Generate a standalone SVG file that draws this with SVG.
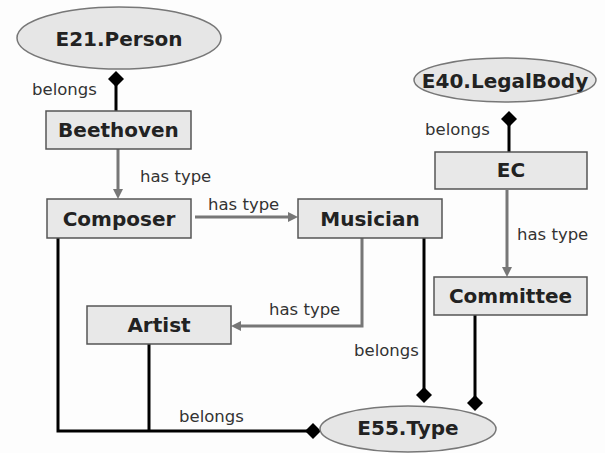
<svg xmlns="http://www.w3.org/2000/svg" width="605" height="453" viewBox="0 0 605 453">
<defs>
<style>
.box{fill:#e8e8e8;stroke:#555;stroke-width:1.5}
.ell{fill:#e6e6e6;stroke:#777;stroke-width:1.5}
.t{font-family:"DejaVu Sans",Verdana,sans-serif;font-weight:bold;font-size:20px;fill:#222;text-anchor:middle}
.l{font-family:"DejaVu Sans",Verdana,sans-serif;font-size:16.5px;fill:#333}
.ht{fill:none;stroke:#777;stroke-width:3;marker-end:url(#arr)}
.bl{fill:none;stroke:#000;stroke-width:3}
.bd{marker-end:url(#dia)}
</style>
<marker id="arr" markerUnits="userSpaceOnUse" markerWidth="12" markerHeight="12" refX="2" refY="5" orient="auto" viewBox="0 0 12 10">
<path d="M0,0 L10,5 L0,10 z" fill="#777"/>
</marker>
<marker id="dia" markerUnits="userSpaceOnUse" markerWidth="18" markerHeight="18" refX="12" refY="8" orient="auto" viewBox="0 0 18 16">
<path d="M0,8 L8,0 L16,8 L8,16 z" fill="#000"/>
</marker>
</defs>
<rect width="605" height="453" fill="#fdfdfd"/>
<g id="connectors">
<path class="bl bd" d="M116,111 V75"/>
<path class="bl bd" d="M509,152 V115"/>
<path class="ht" d="M118,149 V191"/>
<path class="ht" d="M195,217 H290"/>
<path class="ht" d="M507,190 V269"/>
<path class="ht" d="M362,238 V326 H239"/>
<path class="bl bd" d="M424,238 V399"/>
<path class="bl bd" d="M475,315 V407"/>
<path class="bl bd" d="M58,238 V431 H317"/>
<path class="bl" d="M149,344 V431"/>
<text class="l" x="32" y="95">belongs</text>
<text class="l" x="425" y="135">belongs</text>
<text class="l" x="140" y="182">has type</text>
<text class="l" x="208" y="210">has type</text>
<text class="l" x="517" y="240">has type</text>
<text class="l" x="269" y="315">has type</text>
<text class="l" x="354" y="356">belongs</text>
<text class="l" x="179" y="422">belongs</text>
</g>
<g id="E21.Person"><ellipse class="ell" cx="119" cy="38" rx="102" ry="31"/><text class="t" x="119" y="46">E21.Person</text></g>
<g id="E40.LegalBody"><ellipse class="ell" cx="505" cy="80" rx="91" ry="22"/><text class="t" x="505" y="88">E40.LegalBody</text></g>
<g id="Beethoven"><rect class="box" x="46" y="111" width="145" height="38"/><text class="t" x="118.5" y="137">Beethoven</text></g>
<g id="EC"><rect class="box" x="435" y="152" width="152" height="37"/><text class="t" x="511" y="177">EC</text></g>
<g id="Composer"><rect class="box" x="47" y="199" width="144" height="39"/><text class="t" x="119" y="226">Composer</text></g>
<g id="Musician"><rect class="box" x="298" y="199" width="144" height="39"/><text class="t" x="370" y="226">Musician</text></g>
<g id="Committee"><rect class="box" x="434" y="277" width="153" height="38"/><text class="t" x="510.5" y="303">Committee</text></g>
<g id="Artist"><rect class="box" x="87" y="306" width="144" height="38"/><text class="t" x="159" y="332">Artist</text></g>
<g id="E55.Type"><ellipse class="ell" cx="408" cy="429" rx="88" ry="23"/><text class="t" x="408" y="435">E55.Type</text></g>
</svg>
